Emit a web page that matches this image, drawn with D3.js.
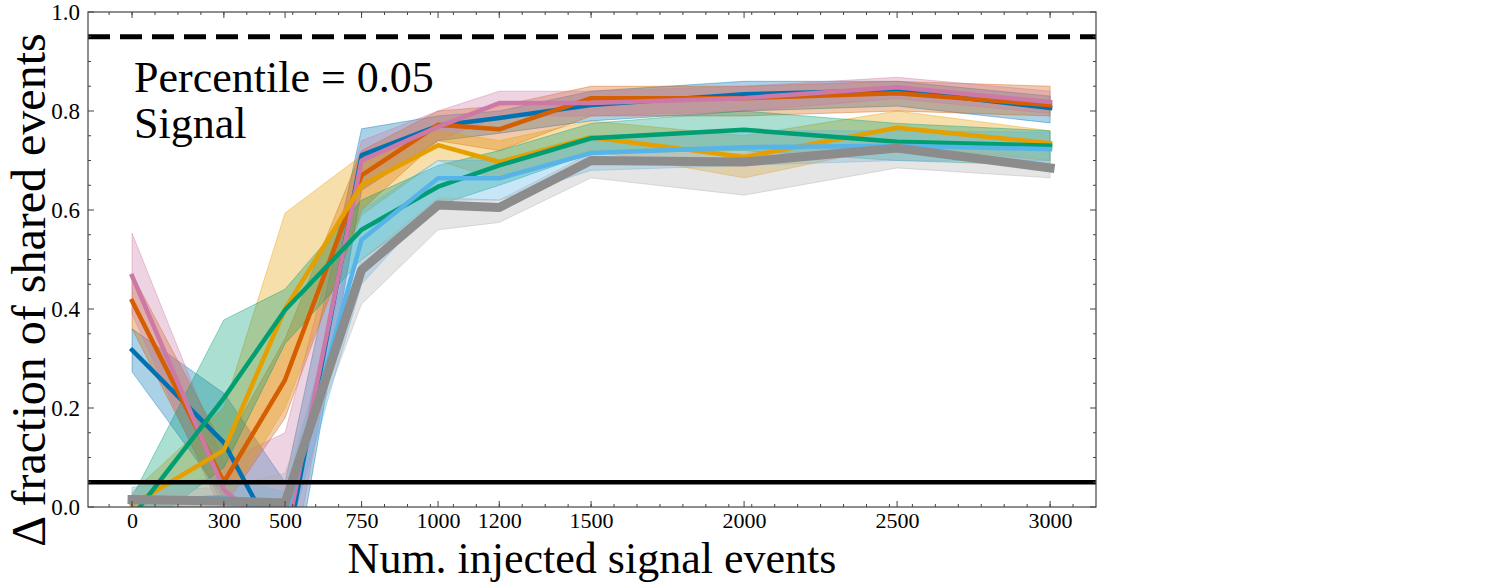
<!DOCTYPE html>
<html>
<head>
<meta charset="utf-8">
<script src="https://cdn.jsdelivr.net/npm/d3@7"></script>
<style>
  html, body { margin: 0; padding: 0; background: #fff; }
  svg { display: block; }
  text { font-family: "Liberation Serif", "DejaVu Serif", serif; fill: #000; }
</style>
</head>
<body>
<svg id="chart" width="1494" height="584"></svg>
<script>
// ---- data ----
const xValues = [0, 300, 500, 750, 1000, 1200, 1500, 2000, 2500, 3000];
const xTickLabels = ["0", "300", "500", "750", "1000", "1200", "1500", "2000", "2500", "3000"];
const yTickValues = [0, 0.2, 0.4, 0.6, 0.8, 1.0];
const yTickLabels = ["0.0", "0.2", "0.4", "0.6", "0.8", "1.0"];

const blueMean   = [0.317, 0.13, -0.10, 0.711, 0.770, 0.786, 0.812, 0.834, 0.842, 0.806];
const blueLow    = [0.273, 0.02, -0.25, 0.640, 0.740, 0.755, 0.780, 0.800, 0.810, 0.776];
const blueHigh   = [0.360, 0.23, 0.05, 0.764, 0.790, 0.800, 0.840, 0.860, 0.860, 0.830];

const vermMean   = [0.416, 0.050, 0.257, 0.670, 0.772, 0.763, 0.826, 0.826, 0.836, 0.812];
const vermLow    = [0.360, 0.000, 0.180, 0.600, 0.740, 0.720, 0.790, 0.790, 0.800, 0.790];
const vermHigh   = [0.470, 0.120, 0.340, 0.720, 0.800, 0.810, 0.850, 0.850, 0.860, 0.850];

const pinkMean   = [0.467, 0.035, -0.07, 0.700, 0.768, 0.816, 0.816, 0.826, 0.848, 0.818];
const pinkLow    = [0.390, -0.02, -0.20, 0.640, 0.740, 0.790, 0.790, 0.800, 0.825, 0.795];
const pinkHigh   = [0.553, 0.090, 0.15, 0.740, 0.800, 0.840, 0.840, 0.850, 0.868, 0.840];

const orangeMean = [0.004, 0.115, 0.400, 0.650, 0.731, 0.697, 0.747, 0.707, 0.766, 0.735];
const orangeLow  = [-0.03, 0.000, 0.200, 0.590, 0.700, 0.660, 0.720, 0.665, 0.730, 0.700];
const orangeHigh = [0.030, 0.200, 0.594, 0.710, 0.760, 0.740, 0.780, 0.750, 0.800, 0.760];

const greenMean  = [-0.02, 0.220, 0.398, 0.560, 0.647, 0.690, 0.745, 0.762, 0.738, 0.730];
const greenLow   = [-0.06, 0.080, 0.330, 0.500, 0.610, 0.650, 0.715, 0.720, 0.700, 0.690];
const greenHigh  = [0.020, 0.378, 0.440, 0.620, 0.690, 0.720, 0.775, 0.800, 0.775, 0.760];

const skyMean    = [0.010, 0.020, -0.020, 0.540, 0.664, 0.664, 0.715, 0.727, 0.730, 0.723];
const skyLow     = [-0.02, -0.02, -0.08, 0.450, 0.620, 0.620, 0.680, 0.690, 0.700, 0.700];
const skyHigh    = [0.040, 0.060, 0.030, 0.600, 0.700, 0.700, 0.750, 0.760, 0.760, 0.757];

const greyMean   = [0.015, 0.012, 0.008, 0.479, 0.610, 0.605, 0.700, 0.697, 0.725, 0.685];
const greyLow    = [0.000, 0.000, 0.000, 0.410, 0.560, 0.575, 0.665, 0.630, 0.685, 0.665];
const greyHigh   = [0.030, 0.040, 0.068, 0.500, 0.625, 0.620, 0.715, 0.715, 0.740, 0.700];

const percentileLine = 0.95;
const baselineLine = 0.05;

const series = [
  { name: "blue",   color: "#0072B2", mean: blueMean,   low: blueLow,   high: blueHigh,   width: 4.5 },
  { name: "verm",   color: "#D55E00", mean: vermMean,   low: vermLow,   high: vermHigh,   width: 4.5 },
  { name: "pink",   color: "#CC79A7", mean: pinkMean,   low: pinkLow,   high: pinkHigh,   width: 4.5 },
  { name: "orange", color: "#E69F00", mean: orangeMean, low: orangeLow, high: orangeHigh, width: 4.5 },
  { name: "green",  color: "#009E73", mean: greenMean,  low: greenLow,  high: greenHigh,  width: 4.5 },
  { name: "sky",    color: "#56B4E9", mean: skyMean,    low: skyLow,    high: skyHigh,    width: 4.5 },
  { name: "grey",   color: "#8c8c8c", mean: greyMean,   low: greyLow,   high: greyHigh,   width: 9, bandColor: "#b0b0b0" }
];

// ---- layout ----
const svg = d3.select("#chart");
const L = 88, R = 1096, T = 12, B = 507;
const x = d3.scaleLinear().domain([-144, 3150]).range([L, R]);
const y = d3.scaleLinear().domain([0, 1]).range([B, T]);

svg.append("defs").append("clipPath").attr("id", "plotclip")
  .append("rect").attr("x", L).attr("y", T).attr("width", R - L).attr("height", B - T);

const plot = svg.append("g").attr("clip-path", "url(#plotclip)");

const area = (s) => d3.area()
  .x((d, i) => x(xValues[i]))
  .y0((d, i) => y(s.low[i]))
  .y1((d, i) => y(s.high[i]));
const line = d3.line().x((d, i) => x(xValues[i])).y(d => y(d));

// bands
series.forEach(s => {
  plot.append("path")
    .datum(s.mean)
    .attr("d", area(s))
    .attr("fill", s.bandColor || s.color)
    .attr("fill-opacity", 0.33)
    .attr("stroke", s.bandColor || s.color)
    .attr("stroke-opacity", 0.4)
    .attr("stroke-width", 1);
});

// lines
series.forEach(s => {
  plot.append("path")
    .datum(s.mean)
    .attr("d", line)
    .attr("fill", "none")
    .attr("stroke", s.color)
    .attr("stroke-width", s.width)
    .attr("stroke-linejoin", "round")
    .attr("stroke-linecap", "square");
});

// horizontal reference lines
plot.append("line")
  .attr("x1", L).attr("x2", R)
  .attr("y1", y(percentileLine)).attr("y2", y(percentileLine))
  .attr("stroke", "#000").attr("stroke-width", 5)
  .attr("stroke-dasharray", "22,10");
plot.append("line")
  .attr("x1", L).attr("x2", R)
  .attr("y1", y(baselineLine)).attr("y2", y(baselineLine))
  .attr("stroke", "#000").attr("stroke-width", 4.5);

// frame
svg.append("rect")
  .attr("x", L).attr("y", T).attr("width", R - L).attr("height", B - T)
  .attr("fill", "none").attr("stroke", "#444").attr("stroke-width", 1.2);

// ticks
const axisColor = "#444";
const xMinor = d3.range(-75, 3150, 75);
const yMinor = d3.range(0.05, 1.0, 0.05).filter(v => Math.abs(v * 5 - Math.round(v * 5)) > 1e-6);

const ticks = svg.append("g").attr("stroke", axisColor).attr("stroke-width", 1);
xMinor.forEach(v => {
  ticks.append("line").attr("x1", x(v)).attr("x2", x(v)).attr("y1", B).attr("y2", B - 3);
  ticks.append("line").attr("x1", x(v)).attr("x2", x(v)).attr("y1", T).attr("y2", T + 3);
});
xValues.forEach(v => {
  ticks.append("line").attr("x1", x(v)).attr("x2", x(v)).attr("y1", B).attr("y2", B - 6);
  ticks.append("line").attr("x1", x(v)).attr("x2", x(v)).attr("y1", T).attr("y2", T + 6);
});
yMinor.forEach(v => {
  ticks.append("line").attr("x1", L).attr("x2", L + 3).attr("y1", y(v)).attr("y2", y(v));
  ticks.append("line").attr("x1", R).attr("x2", R - 3).attr("y1", y(v)).attr("y2", y(v));
});
yTickValues.forEach(v => {
  ticks.append("line").attr("x1", L).attr("x2", L + 6).attr("y1", y(v)).attr("y2", y(v));
  ticks.append("line").attr("x1", R).attr("x2", R - 6).attr("y1", y(v)).attr("y2", y(v));
});

// tick labels via d3 axes (lines hidden)
const xAxis = d3.axisBottom(x).tickValues(xValues).tickFormat((d, i) => xTickLabels[i]).tickSize(0).tickPadding(5);
const gx = svg.append("g").attr("transform", `translate(0,${B})`).call(xAxis);
gx.select(".domain").remove();
gx.selectAll("text").style("font-family", "'Liberation Serif', serif").style("font-size", "22px").attr("fill", "#000");

const yAxis = d3.axisLeft(y).tickValues(yTickValues).tickFormat((d, i) => yTickLabels[i]).tickSize(0).tickPadding(8);
const gy = svg.append("g").attr("transform", `translate(${L},0)`).call(yAxis);
gy.select(".domain").remove();
gy.selectAll("text").style("font-family", "'Liberation Serif', serif").style("font-size", "23px").attr("fill", "#000");

// annotation
svg.append("text").attr("x", 134).attr("y", 92)
  .style("font-size", "44px").text("Percentile = 0.05");
svg.append("text").attr("x", 134).attr("y", 138)
  .style("font-size", "44px").text("Signal");

// axis labels
svg.append("text")
  .attr("x", 592).attr("y", 573)
  .attr("text-anchor", "middle")
  .style("font-size", "44px")
  .text("Num. injected signal events");

svg.append("text")
  .attr("transform", "translate(45,290) rotate(-90)")
  .attr("text-anchor", "middle")
  .style("font-size", "48px")
  .text("Δ fraction of shared events");
</script>
</body>
</html>
